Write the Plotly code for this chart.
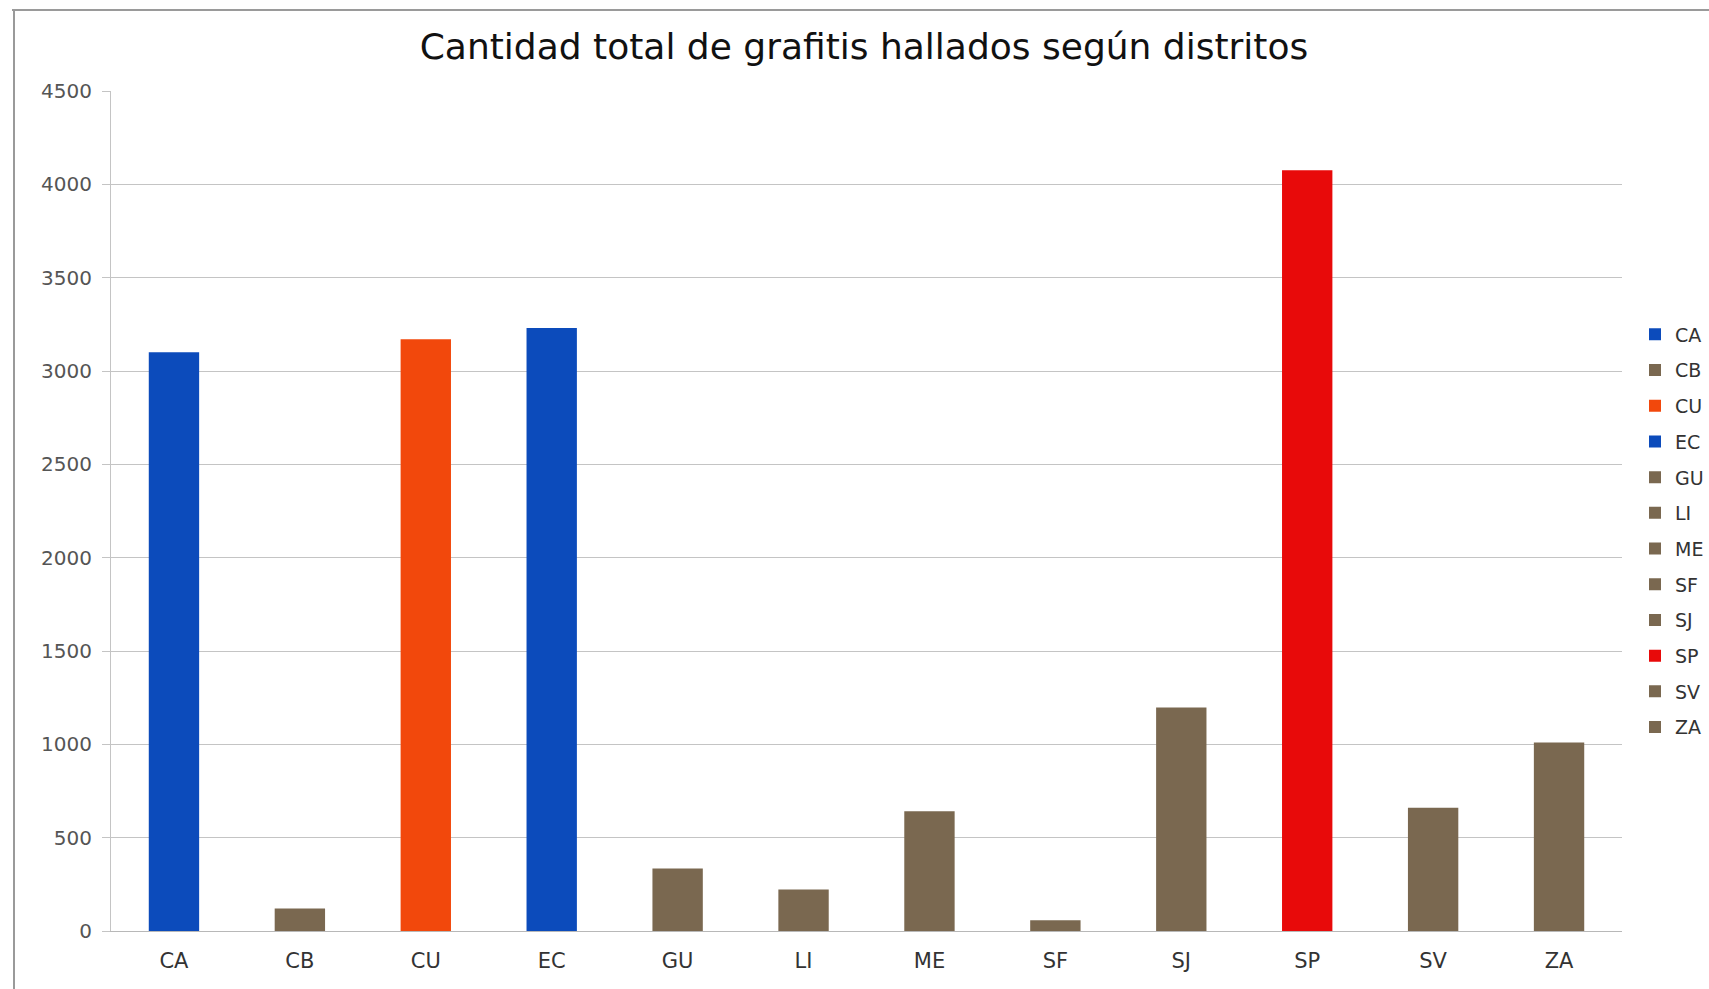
import plotly.graph_objects as go

districts = ["CA", "CB", "CU", "EC", "GU", "LI", "ME", "SF", "SJ", "SP", "SV", "ZA"]
totals = [3100, 120, 3170, 3230, 335, 222, 642, 58, 1197, 4076, 660, 1010]
colors = ["#0c4bbb", "#7a6850", "#f2480c", "#0c4bbb", "#7a6850", "#7a6850",
          "#7a6850", "#7a6850", "#7a6850", "#e80a0a", "#7a6850", "#7a6850"]
y_ticks = [0, 500, 1000, 1500, 2000, 2500, 3000, 3500, 4000, 4500]
title_text = "Cantidad total de grafitis hallados según distritos"

fig = go.Figure()
for d, v, c in zip(districts, totals, colors):
    fig.add_trace(go.Bar(x=[d], y=[v], name=d, marker=dict(color=c, line=dict(width=0)),
                         legendgroup=d))

W, H = 1709, 989
# desired screen positions of plot area
sl, sr, st, sb = 111, 1622, 91, 931
ml, mt = sl, st
mr = W - sr
mb = H - sb
pw, ph = W - ml - mr, H - mt - mb

def px_x(x):
    return (x - ml) / pw

def px_y(y):
    return (H - mb - y) / ph

FONT = "DejaVu Sans"

fig.update_layout(
    width=W, height=H,
    margin=dict(l=ml, r=mr, t=mt, b=mb, autoexpand=False),
    paper_bgcolor="white", plot_bgcolor="white",
    barmode="overlay", bargap=0.6,
    title=dict(text=title_text, x=864 / W, xref="container", xanchor="center",
               y=1 - 46 / H, yanchor="middle",
               font=dict(family=FONT, size=36, color="#111111")),
    font=dict(family=FONT, color="#444444"),
    xaxis=dict(categoryorder="array", categoryarray=districts, automargin=False,
               showline=True, linecolor="#b8b8b8", linewidth=1,
               ticks="", tickfont=dict(size=21, color="#333333"),
               ticklabelstandoff=11),
    yaxis=dict(range=[0, 4500], tickvals=y_ticks, showgrid=True, automargin=False,
               gridcolor="#c4c4c4", gridwidth=1, zeroline=False,
               showline=True, linecolor="#c4c4c4", linewidth=1,
               ticks="outside", ticklen=8, tickcolor="#c4c4c4",
               tickfont=dict(size=20, color="#555555"), ticklabelstandoff=6),
    legend=dict(x=px_x(1635), y=px_y(531), xanchor="left", yanchor="middle",
                font=dict(family=FONT, size=19, color="#333333"),
                tracegroupgap=8, itemwidth=30, traceorder="grouped",
                bgcolor="rgba(0,0,0,0)"),
    shapes=[
        dict(type="line", xref="paper", yref="paper", x0=px_x(12), x1=px_x(1709),
             y0=px_y(10), y1=px_y(10), line=dict(color="#9a9a9a", width=2), layer="below"),
        dict(type="line", xref="paper", yref="paper", x0=px_x(14), x1=px_x(14),
             y0=px_y(10), y1=px_y(1000), line=dict(color="#9a9a9a", width=2), layer="below"),
    ],
)

fig.write_html("out.html", config={"displayModeBar": False},
               post_script="document.body.style.margin='0';")
